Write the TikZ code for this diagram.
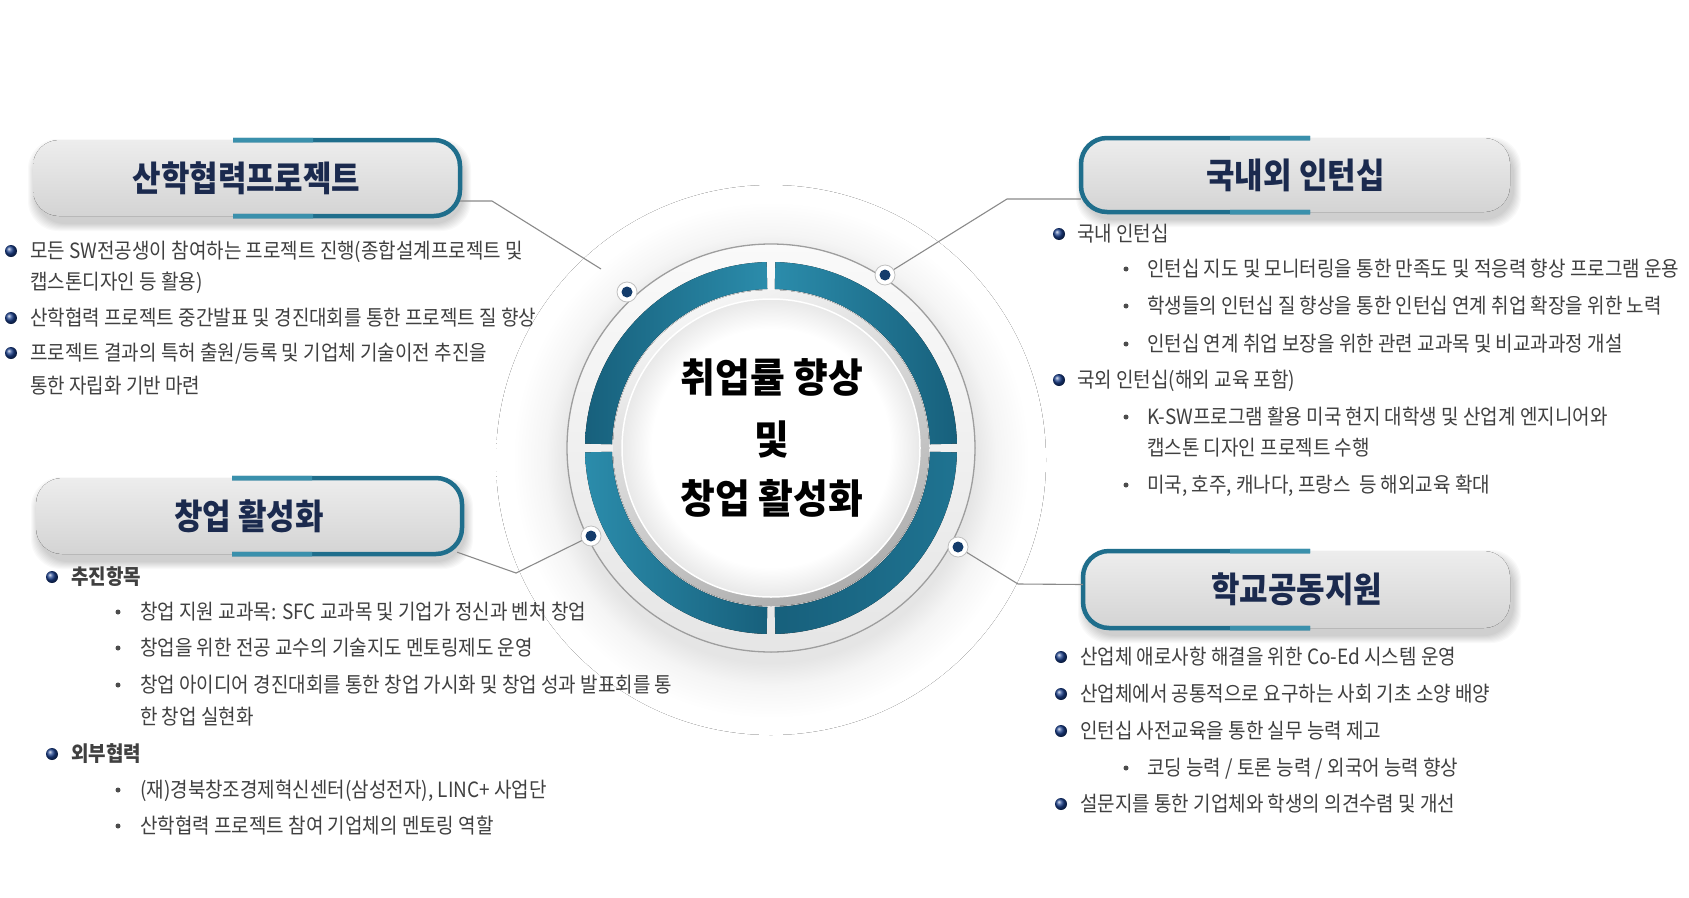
\documentclass[tikz,border=0pt]{standalone}
\usepackage{fontspec}
\newfontfamily\krbody[FakeStretch=0.905]{Noto Sans CJK KR}
\newfontfamily\krtitle[FakeStretch=0.885]{Noto Sans CJK KR}
\newfontfamily\krcenter[FakeStretch=0.945]{Noto Sans CJK KR}
\usetikzlibrary{calc}
\definecolor{tealA}{HTML}{2B8CAB}
\definecolor{tealB}{HTML}{17607C}
\definecolor{tealM}{HTML}{1F7391}
\definecolor{tealBorder}{HTML}{1F6E8C}
\definecolor{tealLight}{HTML}{3A90AC}
\definecolor{navyT}{HTML}{1B2A4E}
\definecolor{bodyG}{HTML}{404040}
\definecolor{navyDot}{HTML}{143C6B}
\definecolor{ballC}{HTML}{1A3F8C}
\definecolor{connG}{HTML}{8A8A8A}
\pgfdeclareradialshading{circglow}{\pgfpointorigin}{color(0bp)=(black!11); color(18.5bp)=(black!10); color(20.5bp)=(black!4); color(23.5bp)=(white); color(50bp)=(white)}
\pgfdeclareradialshading{discshade}{\pgfpointorigin}{color(0bp)=(white); color(20bp)=(white); color(25bp)=(black!9); color(50bp)=(black!9)}
\tikzset{
  bodytxt/.style={anchor=base west, inner sep=0pt, text=bodyG, font=\krbody\fontsize{21pt}{25pt}\selectfont},
  bodybold/.style={bodytxt, font=\krbody\bfseries\fontsize{21pt}{25pt}\selectfont},
  bigball/.style={circle, inner sep=0pt, minimum size=12pt, ball color=ballC},
  smalldot/.style={circle, inner sep=0pt, minimum size=5pt, fill=black!70},
  titlenode/.style={inner sep=0pt, text=navyT, font=\krtitle\bfseries\fontsize{35pt}{40pt}\selectfont},
  centertxt/.style={inner sep=0pt, text=black, font=\krcenter\bfseries\fontsize{40pt}{45pt}\selectfont},
  conn/.style={draw=connG, line width=1.1pt},
  ringdot/.style={circle, inner sep=0pt, minimum size=20pt, fill=white, draw=black!25, line width=0.8pt,
    path picture={\fill[navyDot] (path picture bounding box.center) circle (5.5pt);}}
}
% #1 name, #2 x1, #3 y1, #4 x2, #5 y2, #6 clip x from, #7 clip x to, #8 text, #9 light teal start
\newcommand\TitleBox[9]{%
  \foreach \k in {1,...,8}{\fill[black, opacity=0.022, rounded corners=30pt] (#2-\k+3,#3-\k+7) rectangle (#4+\k+3,#5+\k+7);}
  \fill[shading=axis, top color=black!7, middle color=black!2, bottom color=black!17, rounded corners=26pt] (#2,#3) rectangle (#4,#5);
  \begin{scope}
    \clip (#6,#3-12) rectangle (#7,#5+12);
    \draw[tealBorder, line width=4.5pt, rounded corners=26pt] (#2,#3) rectangle (#4,#5);
  \end{scope}
  \begin{scope}
    \clip (#9,#3-12) rectangle (#9+80,#5+12);
    \draw[tealLight, line width=4.5pt, rounded corners=26pt] (#2,#3) rectangle (#4,#5);
  \end{scope}
  \node[titlenode, minimum width=#4-#2, minimum height=#5-#3] (#1) at ({(#2+#4)/2},{(#3+#5)/2}) {#8};
}
\newcommand\RingSector[3]{%
  \fill[#3] ($(771,448)+(#1:186pt)$) arc[start angle=#1, end angle=#2, radius=186pt]
     -- ($(771,448)+(#2:159pt)$) arc[start angle=#2, end angle=#1, radius=159pt] -- cycle;
}
\begin{document}
\begin{tikzpicture}[x=1pt,y=-1pt]
\useasboundingbox (0,0) rectangle (1689,897);
\fill[white] (0,0) rectangle (1689,897);

% ---- central circle ----
\fill[shading=circglow] (771,460) circle (275pt);
\fill[shading=axis, top color=black!2, bottom color=black!10] (771,448) circle (204pt);
\draw[black!38, line width=1.3pt] (771,448) circle (204pt);
\RingSector{91.35}{178.65}{left color=tealB, right color=tealA}
\RingSector{1.35}{88.65}{left color=tealA, right color=tealB}
\RingSector{271.35}{358.65}{left color=tealB, right color=tealM}
\RingSector{181.35}{268.65}{left color=tealA, right color=tealB}
\fill[shading=axis, top color=black!4, bottom color=black!32, shading angle=25] (771,448) circle (158pt);
\fill[shading=discshade] (771,448) circle (149pt);
\draw[white, line width=1.5pt] (771,448) circle (149pt);

\node[centertxt] (ct1) at (772,377) {취업률 향상};
\node[centertxt] (ct2) at (772,439) {및};
\node[centertxt] (ct3) at (772,498) {창업 활성화};

\node[ringdot] (d1) at (627,292) {};
\node[ringdot] (d2) at (885,275) {};
\node[ringdot] (d3) at (591,536) {};
\node[ringdot] (d4) at (958,547) {};

% ---- titles ----
\TitleBox{t1}{33}{140}{460}{216}{233}{480}{산학협력프로젝트}{233}
\TitleBox{t2}{1081}{138}{1510}{212}{1060}{1310}{국내외 인턴십}{1230}
\TitleBox{t3}{36}{478}{462}{554}{232}{480}{창업 활성화}{232}
\TitleBox{t4}{1083}{551}{1510}{628}{1060}{1310}{학교공동지원}{1230}

% ---- connectors ----
\coordinate (c1bend) at (492,201);
\coordinate (c1end) at (601,269);
\coordinate (c2bend) at (1007,199);
\coordinate (c3bend) at (516,573);
\coordinate (c4bend) at (1018,584);
\draw[conn] ([yshift=-23pt]t1.east) -- (c1bend) -- (c1end);
\draw[conn] ([yshift=-24pt]t2.west) -- (c2bend) -- (d2);
\draw[conn] ([xshift=-5pt,yshift=2pt]t3.south east) -- (c3bend) -- (d3);
\draw[conn] (d4) -- (c4bend) -- ([yshift=5pt]t4.west);

% ---- left top text ----
\node[bigball] (lb1) at (11,251) {};
\node[bodytxt] (l1a) at (30,258) {모든 SW전공생이 참여하는 프로젝트 진행(종합설계프로젝트 및};
\node[bodytxt] (l1b) at (30,289) {캡스톤디자인 등 활용)};
\node[bigball] (lb2) at (11,318) {};
\node[bodytxt] (l2) at (30,325) {산학협력 프로젝트 중간발표 및 경진대회를 통한 프로젝트 질 향상};
\node[bigball] (lb3) at (11,353) {};
\node[bodytxt] (l3a) at (30,360) {프로젝트 결과의 특허 출원/등록 및 기업체 기술이전 추진을};
\node[bodytxt] (l3b) at (30,393) {통한 자립화 기반 마련};

% ---- right top text ----
\node[bigball] (rb1) at (1059,234) {};
\node[bodytxt] (r1) at (1077,241) {국내 인턴십};
\node[smalldot] (rs1) at (1126,269) {};
\node[bodytxt] (r1a) at (1147,276) {인턴십 지도 및 모니터링을 통한 만족도 및 적응력 향상 프로그램 운용};
\node[smalldot] (rs2) at (1126,306) {};
\node[bodytxt] (r1b) at (1147,313) {학생들의 인턴십 질 향상을 통한 인턴십 연계 취업 확장을 위한 노력};
\node[smalldot] (rs3) at (1126,344) {};
\node[bodytxt] (r1c) at (1147,351) {인턴십 연계 취업 보장을 위한 관련 교과목 및 비교과과정 개설};
\node[bigball] (rb2) at (1059,380) {};
\node[bodytxt] (r2) at (1077,387) {국외 인턴십(해외 교육 포함)};
\node[smalldot] (rs4) at (1126,417) {};
\node[bodytxt] (r2a) at (1147,424) {K-SW프로그램 활용 미국 현지 대학생 및 산업계 엔지니어와};
\node[bodytxt] (r2b) at (1147,455) {캡스톤 디자인 프로젝트 수행};
\node[smalldot] (rs5) at (1126,485) {};
\node[bodytxt] (r2c) at (1147,492) {미국, 호주, 캐나다, 프랑스\ \ 등 해외교육 확대};

% ---- left bottom text ----
\node[bigball] (lb4) at (52,577) {};
\node[bodybold] (m1) at (71,584) {추진항목};
\node[smalldot] (ls1) at (118,612) {};
\node[bodytxt] (m1a) at (140,619) {창업 지원 교과목: SFC 교과목 및 기업가 정신과 벤처 창업};
\node[smalldot] (ls2) at (118,648) {};
\node[bodytxt] (m1b) at (140,655) {창업을 위한 전공 교수의 기술지도 멘토링제도 운영};
\node[smalldot] (ls3) at (118,685) {};
\node[bodytxt] (m1c) at (140,692) {창업 아이디어 경진대회를 통한 창업 가시화 및 창업 성과 발표회를 통};
\node[bodytxt] (m1d) at (140,724) {한 창업 실현화};
\node[bigball] (lb5) at (52,754) {};
\node[bodybold] (m2) at (71,761) {외부협력};
\node[smalldot] (ls4) at (118,790) {};
\node[bodytxt] (m2a) at (140,797) {(재)경북창조경제혁신센터(삼성전자), LINC+ 사업단};
\node[smalldot] (ls5) at (118,826) {};
\node[bodytxt] (m2b) at (140,833) {산학협력 프로젝트 참여 기업체의 멘토링 역할};

% ---- right bottom text ----
\node[bigball] (rb3) at (1061,657) {};
\node[bodytxt] (s1) at (1080,664) {산업체 애로사항 해결을 위한 Co-Ed 시스템 운영};
\node[bigball] (rb4) at (1061,694) {};
\node[bodytxt] (s2) at (1080,701) {산업체에서 공통적으로 요구하는 사회 기초 소양 배양};
\node[bigball] (rb5) at (1061,731) {};
\node[bodytxt] (s3) at (1080,738) {인턴십 사전교육을 통한 실무 능력 제고};
\node[smalldot] (rs6) at (1126,768) {};
\node[bodytxt] (s3a) at (1147,775) {코딩 능력 / 토론 능력 / 외국어 능력 향상};
\node[bigball] (rb6) at (1061,804) {};
\node[bodytxt] (s4) at (1080,811) {설문지를 통한 기업체와 학생의 의견수렴 및 개선};
\end{tikzpicture}
\end{document}
